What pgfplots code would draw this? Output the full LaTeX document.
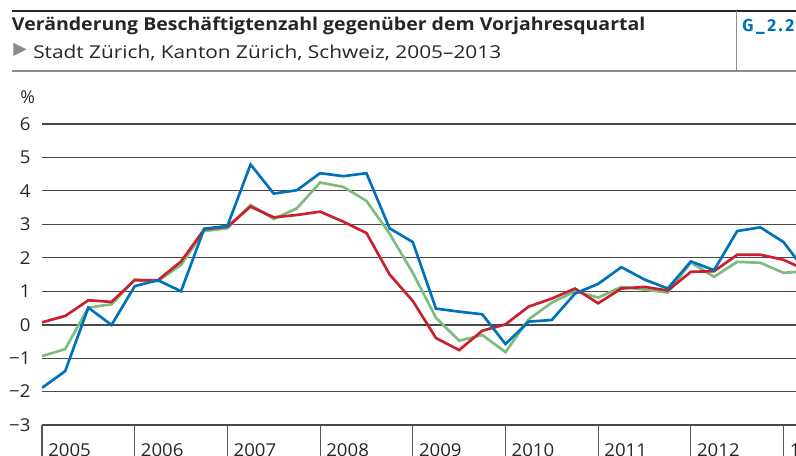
\documentclass[border=0pt]{standalone}
\usepackage{fontspec}
\setmainfont{Open Sans}
\newfontfamily\gfont{Fira Sans}
\usepackage{pgfplots}
\usepackage{pgfplotstable}
\pgfplotsset{compat=1.18}
\definecolor{czblue}{RGB}{0,114,188}
\definecolor{czred}{RGB}{200,32,46}
\definecolor{czgreen}{RGB}{125,188,125}
\definecolor{gridc}{RGB}{72,72,72}
\definecolor{sepc}{RGB}{85,85,85}
\definecolor{headgray}{RGB}{140,140,140}

\pgfplotstableread{
x       blue  red   green
2005.00 -1.89 0.07 -0.94
2005.25 -1.39 0.26 -0.73
2005.50  0.51 0.73  0.51
2005.75 -0.01 0.68  0.61
2006.00  1.15 1.33  1.35
2006.25  1.33 1.33  1.30
2006.50  1.00 1.89  1.79
2006.75  2.87 2.85  2.80
2007.00  2.95 2.93  2.88
2007.25  4.79 3.53  3.58
2007.50  3.92 3.21  3.16
2007.75  4.02 3.28  3.48
2008.00  4.53 3.38  4.25
2008.25  4.44 3.08  4.12
2008.50  4.53 2.74  3.70
2008.75  2.88 1.50  2.72
2009.00  2.47 0.71  1.55
2009.25  0.48 -0.40 0.21
2009.50  0.39 -0.76 -0.48
2009.75  0.31 -0.18 -0.31
2010.00 -0.58 0.01 -0.82
2010.25  0.09 0.54  0.16
2010.50  0.14 0.78  0.66
2010.75  0.93 1.08  1.00
2011.00  1.22 0.64  0.81
2011.25  1.72 1.08  1.13
2011.50  1.35 1.13  1.05
2011.75  1.08 1.02  0.96
2012.00  1.89 1.58  1.86
2012.25  1.63 1.60  1.43
2012.50  2.80 2.09  1.88
2012.75  2.91 2.09  1.85
2013.00  2.47 1.94  1.55
2013.25  1.55 1.62  1.60
}\data

\begin{document}
\begin{tikzpicture}
\path[use as bounding box] (0,0) rectangle (597pt,341.25pt);
\clip (0,0) rectangle (597pt,341.25pt);
\begin{axis}[
  at={(31.5pt,22.5pt)}, anchor=south west,
  scale only axis, width=625.7pt, height=225.75pt,
  xmin=2005, xmax=2014, ymin=-3, ymax=6,
  axis line style={draw=none},
  tick pos=left,
  ytick={-3,...,6},
  yticklabels={−3,−2,−1,0,1,2,3,4,5,6},
  ytick style={draw=none},
  ymajorgrids,
  grid style={gridc, line width=0.85pt},
  extra y ticks={0},
  extra y tick labels={},
  extra y tick style={grid style={gridc, line width=1.6pt}, tick style={draw=none}},
  xtick={2005,...,2013},
  xticklabels={2005,2006,2007,2008,2009,2010,2011,2012,1. Quartal 2013},
  xtick style={draw=sepc, line width=0.8pt},
  major tick length=26pt,
  tick align=outside,
  tick label style={font=\fontsize{13.3}{16}\selectfont\addfontfeature{FakeStretch=1.05}, text=black!85},
  yticklabel style={anchor=east, inner sep=0pt, xshift=17.4pt},
  xticklabel style={anchor=north west, inner sep=0pt, xshift=4.5pt, yshift=12.6pt},
]
\addplot[czgreen, line width=2pt] table[x=x, y=green] {\data};
\addplot[czred, line width=2pt] table[x=x, y=red] {\data};
\addplot[czblue, line width=2pt] table[x=x, y=blue] {\data};
\end{axis}
% header
\draw[black!85, line width=1pt] (8.8pt,333pt) -- (597pt,333pt);
\draw[headgray, line width=1.2pt] (8.8pt,288.2pt) -- (597pt,288.2pt);
\draw[headgray, line width=0.9pt] (552.5pt,333pt) -- (552.5pt,288.2pt);
\node[anchor=base west, inner sep=0pt, text=black!85] at (8.8pt,318.75pt)
  {\fontsize{13.3}{16}\selectfont\bfseries\addfontfeature{FakeStretch=1.10}Veränderung Beschäftigtenzahl gegenüber dem Vorjahresquartal};
\fill[headgray] (10pt,309.2pt) -- (10pt,299.25pt) -- (20pt,304.2pt) -- cycle;
\node[anchor=base west, inner sep=0pt, text=black!85] at (24.75pt,297.5pt)
  {\fontsize{13.3}{16}\selectfont\addfontfeature{FakeStretch=1.175}Stadt Zürich, Kanton Zürich, Schweiz, 2005–2013};
\node[anchor=base west, inner sep=0pt, text=czblue] at (556.5pt,318pt)
  {\fontsize{13}{16}\selectfont\gfont\bfseries\addfontfeature{LetterSpace=14}G\_2.2};
\node[anchor=base west, inner sep=0pt, text=black!85] at (15pt,264pt)
  {\fontsize{13.3}{16}\selectfont \%};
\end{tikzpicture}
\end{document}
